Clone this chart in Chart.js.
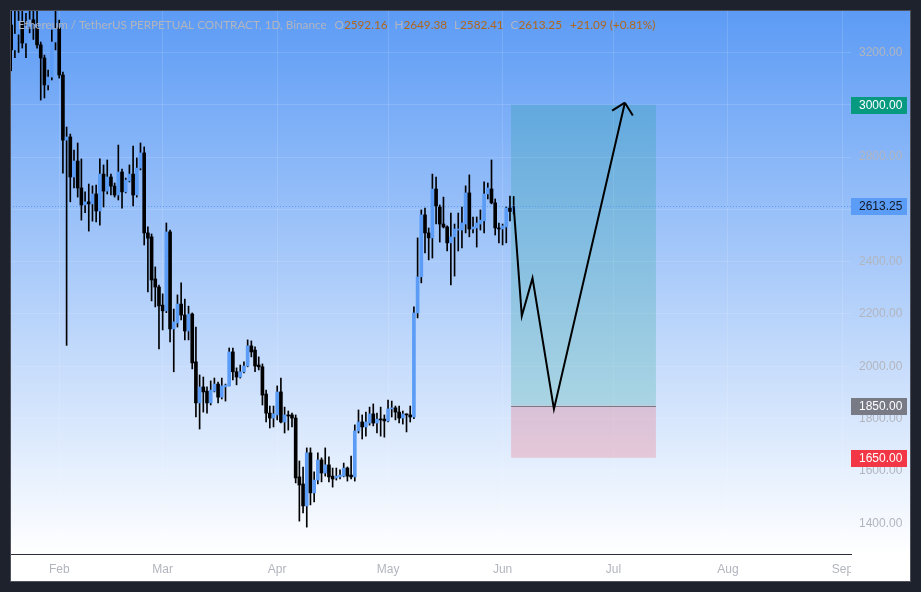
<!DOCTYPE html>
<html>
<head>
<meta charset="utf-8">
<script src="https://cdn.jsdelivr.net/npm/chart.js@4.4.1/dist/chart.umd.min.js"></script>
<style>
  html, body { margin: 0; padding: 0; background: #1e222d; }
  canvas { display: block; }
</style>
</head>
<body>
<canvas id="chart" width="921" height="592"></canvas>
<script>
// ── DATA ─────────────────────────────
const YEAR = 2025;
const dates = [
  '01-19','01-20','01-21','01-22','01-23','01-24','01-25','01-26','01-27','01-28','01-29','01-30','01-31',
  '02-01','02-02','02-03','02-04','02-05','02-06','02-07','02-08','02-09','02-10','02-11','02-12','02-13','02-14',
  '02-15','02-16','02-17','02-18','02-19','02-20','02-21','02-22','02-23','02-24','02-25','02-26','02-27','02-28',
  '03-01','03-02','03-03','03-04','03-05','03-06','03-07','03-08','03-09','03-10','03-11','03-12','03-13','03-14',
  '03-15','03-16','03-17','03-18','03-19','03-20','03-21','03-22','03-23','03-24','03-25','03-26','03-27','03-28',
  '03-29','03-30','03-31',
  '04-01','04-02','04-03','04-04','04-05','04-06','04-07','04-08','04-09','04-10','04-11','04-12','04-13','04-14',
  '04-15','04-16','04-17','04-18','04-19','04-20','04-21','04-22','04-23','04-24','04-25','04-26','04-27','04-28',
  '04-29','04-30',
  '05-01','05-02','05-03','05-04','05-05','05-06','05-07','05-08','05-09','05-10','05-11','05-12','05-13','05-14',
  '05-15','05-16','05-17','05-18','05-19','05-20','05-21','05-22','05-23','05-24','05-25','05-26','05-27','05-28',
  '05-29','05-30','05-31',
  '06-01','06-02','06-03','06-04'
];

const opens = [
  3305,3210,3270,3317,3236,3300,3325,3294,3229,3179,3076,3106,3240,
  3294,3114,2865,2877,2724,2785,2682,2617,2629,2621,2659,2594,2735,2670,2724,2689,2655,2743,2667,2709,2735,2655,2758,2816,2510,2495,2334,2303,
  2234,2212,2514,2143,2166,2238,2196,2135,2200,2017,1860,1921,1905,1860,1905,1932,1882,1921,1925,2055,1979,1959,1979,2001,2078,2062,2005,1998,1894,1821,1802,
  1814,1902,1787,1814,1814,1802,1577,1550,1466,1669,1516,1565,1642,1592,1623,1580,1573,1577,1580,1611,1584,1577,1753,1787,1768,1783,1818,1783,1798,1798,
  1791,1837,1841,1825,1802,1818,1814,1806,2204,2342,2579,2510,2491,2678,2609,2544,2533,2472,2495,2521,2521,2544,2663,2525,2529,2544,2556,2659,2678,2625,2529,
  2525,2533,2605,2592.16
];
const highs = [
  3420,3410,3370,3362,3350,3400,3360,3365,3240,3190,3133,3286,3420,
  3324,3125,2915,2888,2827,2854,2793,2667,2697,2690,2693,2793,2770,2789,2735,2701,2846,2754,2720,2770,2842,2797,2854,2839,2533,2506,2380,2311,
  2277,2548,2521,2219,2273,2319,2257,2230,2204,2150,1967,1959,1921,1944,1955,1940,1955,1932,2070,2070,1994,2005,2017,2101,2097,2074,2036,2009,1909,1848,1848,
  1925,1955,1844,1829,1821,1814,1638,1615,1688,1688,1596,1669,1650,1688,1654,1611,1611,1604,1630,1615,1657,1776,1833,1814,1825,1844,1856,1821,1844,1814,
  1871,1867,1848,1848,1829,1818,1848,2227,2491,2598,2605,2529,2735,2724,2617,2647,2537,2586,2544,2586,2609,2690,2732,2571,2571,2598,2705,2701,2789,2640,2548,
  2544,2609,2651,2649.38
];
const lows = [
  3130,3180,3200,3217,3180,3275,3250,3217,3018,3026,3057,3095,3210,
  3102,2739,2080,2629,2682,2647,2559,2587,2517,2555,2552,2540,2609,2659,2655,2647,2636,2605,2663,2705,2613,2647,2751,2464,2284,2250,2227,2066,
  2139,2205,2093,1979,2150,2177,2101,2101,1990,1806,1760,1825,1821,1852,1902,1860,1875,1867,1925,1948,1929,1955,1975,1998,2036,1979,1986,1852,1787,1764,1768,
  1795,1783,1745,1756,1768,1554,1408,1439,1385,1470,1481,1550,1558,1580,1558,1538,1565,1569,1577,1561,1569,1561,1745,1722,1733,1775,1772,1745,1733,1729,
  1787,1806,1795,1783,1779,1749,1787,1800,2185,2319,2434,2407,2414,2544,2475,2529,2441,2311,2345,2441,2453,2510,2495,2510,2456,2521,2510,2640,2621,2502,2472,
  2464,2472,2556,2582.41
];
const closes = [
  3210,3270,3320,3236,3300,3325,3310,3229,3179,3076,3106,3240,3290,
  3114,2865,2877,2724,2785,2682,2617,2629,2621,2659,2594,2735,2670,2724,2689,2655,2743,2667,2712,2735,2655,2758,2816,2510,2490,2330,2303,2231,
  2212,2514,2143,2170,2238,2196,2135,2200,2013,1860,1921,1902,1860,1909,1932,1882,1925,1928,2055,1979,1959,1979,2001,2078,2055,2001,1998,1890,1821,1802,1818,
  1902,1787,1814,1810,1802,1573,1546,1466,1669,1516,1565,1642,1592,1623,1577,1569,1580,1584,1611,1580,1577,1753,1787,1768,1787,1818,1783,1798,1795,1791,
  1837,1841,1825,1802,1818,1814,1806,2204,2342,2579,2510,2491,2678,2613,2544,2533,2472,2495,2525,2525,2548,2663,2525,2533,2548,2559,2659,2682,2625,2529,2525,
  2537,2605,2592.16,2613.25
];

// axis ticks
const monthTicks  = ['02-01','03-01','04-01','05-01','06-01','07-01','08-01','09-01'];
const monthLabels = ['Feb','Mar','Apr','May','Jun','Jul','Aug','Sep'];
const priceTicks  = [1400,1600,1800,2000,2200,2400,2600,2800,3000,3200];

// long position drawing (days from Feb 1 / prices)
const zoneFrom = 122.3, zoneTo = 161.5;
const target = 3000, entry = 1850, stop = 1650;
const pathDays   = [123, 125.2, 128.1, 133.9, 153.1];
const pathPrices = [2613.25, 2192, 2337, 1836, 3008];

const TITLE = 'Ethereum / TetherUS PERPETUAL CONTRACT, 1D, Binance';

// ── HELPERS ──────────────────────────
const DAY0 = Date.UTC(YEAR, 1, 1);
const dayOf = s => {
  const [m, d] = s.split('-').map(Number);
  return (Date.UTC(YEAR, m - 1, d) - DAY0) / 864e5;
};
const UP = '#5b9cf6', DOWN = '#000000';
const GRAY = '#b2b5be', ORANGE = '#b0661a';
const FONT = 'Liberation Sans, Arial, sans-serif';
const TFONT = 'Lato, Liberation Sans, sans-serif';
const last = closes.length - 1;

// ── PLUGINS ──────────────────────────
const backdrop = {
  id: 'backdrop',
  beforeDraw(chart) {
    const { ctx, chartArea: a } = chart;
    ctx.save();
    ctx.fillStyle = '#1e222d';
    ctx.fillRect(0, 0, chart.width, chart.height);
    ctx.fillStyle = '#ffffff';
    ctx.fillRect(10, 10, 901, 572);
    const g = ctx.createLinearGradient(0, a.top, 0, a.bottom);
    g.addColorStop(0, '#5c9bf5');
    g.addColorStop(1, '#ffffff');
    ctx.fillStyle = g;
    ctx.fillRect(10, a.top, 901, a.bottom - a.top);
    ctx.restore();
  }
};

const position = {
  id: 'position',
  beforeDatasetsDraw(chart) {
    const { ctx, chartArea: a, scales: { x, y } } = chart;
    const x0 = x.getPixelForValue(zoneFrom), x1 = x.getPixelForValue(zoneTo);
    const yT = y.getPixelForValue(target), yE = y.getPixelForValue(entry), yS = y.getPixelForValue(stop);
    ctx.save();
    ctx.fillStyle = 'rgba(8,153,129,0.2)';
    ctx.fillRect(x0, yT, x1 - x0, yE - yT);
    ctx.fillStyle = 'rgba(242,54,69,0.2)';
    ctx.fillRect(x0, yE, x1 - x0, yS - yE);
    ctx.strokeStyle = '#787b86';
    ctx.lineWidth = 1;
    ctx.beginPath();
    ctx.moveTo(x0, Math.round(yE) + 0.5);
    ctx.lineTo(x1, Math.round(yE) + 0.5);
    ctx.stroke();
    // last price dotted line
    const yL = Math.round(y.getPixelForValue(closes[last])) + 0.5;
    ctx.strokeStyle = UP;
    ctx.setLineDash([1, 2]);
    ctx.beginPath();
    ctx.moveTo(a.left, yL);
    ctx.lineTo(a.right, yL);
    ctx.stroke();
    ctx.restore();
  },
  afterDatasetsDraw(chart) {
    // arrow head on the projected path
    const { ctx, scales: { x, y } } = chart;
    const n = pathDays.length;
    const tx = x.getPixelForValue(pathDays[n - 1]), ty = y.getPixelForValue(pathPrices[n - 1]);
    const px = x.getPixelForValue(pathDays[n - 2]), py = y.getPixelForValue(pathPrices[n - 2]);
    const back = Math.atan2(py - ty, px - tx);
    ctx.save();
    ctx.strokeStyle = '#000';
    ctx.lineWidth = 2;
    ctx.beginPath();
    [-Math.PI / 4, Math.PI / 4].forEach(r => {
      ctx.moveTo(tx, ty);
      ctx.lineTo(tx + 15 * Math.cos(back + r), ty + 15 * Math.sin(back + r));
    });
    ctx.stroke();
    ctx.restore();
  }
};

const overlay = {
  id: 'overlay',
  afterDraw(chart) {
    const { ctx, chartArea: a, scales: { y } } = chart;
    ctx.save();
    // clip x labels under price scale
    ctx.fillStyle = '#ffffff';
    ctx.fillRect(a.right, a.bottom + 1, 60, 27);

    // price badges
    const badges = [
      [target, '#089981', '#ffffff'],
      [closes[last], UP, '#131722'],
      [entry, '#787b86', '#ffffff'],
      [stop, '#f23645', '#ffffff']
    ];
    ctx.font = '12px ' + FONT;
    ctx.textBaseline = 'middle';
    ctx.textAlign = 'left';
    badges.forEach(([v, bg, fg]) => {
      const yy = Math.round(y.getPixelForValue(v));
      ctx.fillStyle = bg;
      ctx.fillRect(a.right, yy - 8, 56, 17);
      ctx.fillStyle = fg;
      ctx.fillText(v.toFixed(2), a.right + 8, yy + 0.5);
    });

    // legend / title line
    let size = 13;
    ctx.font = size + 'px ' + TFONT;
    size = size * 309 / ctx.measureText(TITLE).width;
    ctx.font = size.toFixed(2) + 'px ' + TFONT;
    const chg = closes[last] - closes[last - 1];
    const pct = chg / closes[last - 1] * 100;
    const parts = [
      [TITLE, GRAY, 8],
      ['O', GRAY, 0], [opens[last].toFixed(2), ORANGE, 7],
      ['H', GRAY, 0], [highs[last].toFixed(2), ORANGE, 7],
      ['L', GRAY, 0], [lows[last].toFixed(2), ORANGE, 7],
      ['C', GRAY, 0], [closes[last].toFixed(2), ORANGE, 8],
      [(chg >= 0 ? '+' : '') + chg.toFixed(2) + ' (' + (pct >= 0 ? '+' : '') + pct.toFixed(2) + '%)', ORANGE, 0]
    ];
    let tx = 18;
    parts.forEach(([t, c, gap]) => {
      ctx.fillStyle = c;
      ctx.fillText(t, tx, 25);
      tx += ctx.measureText(t).width + gap;
    });

    // panel border
    ctx.strokeStyle = '#50535e';
    ctx.lineWidth = 1;
    ctx.strokeRect(10.5, 10.5, 900, 571);
    ctx.restore();
  }
};

// ── CHART ────────────────────────────
const xs = dates.map(dayOf);

new Chart(document.getElementById('chart'), {
  type: 'bar',
  data: {
    datasets: [
      {
        type: 'line',
        data: pathDays.map((d, i) => ({ x: d, y: pathPrices[i] })),
        borderColor: '#000', borderWidth: 2, pointRadius: 0, tension: 0,
        order: 1
      },
      {
        data: xs.map((x, i) => ({ x, y: [opens[i], closes[i]] })),
        backgroundColor: opens.map((o, i) => closes[i] >= o ? UP : DOWN),
        barThickness: 3, minBarLength: 1, grouped: false, borderWidth: 0,
        order: 2
      },
      {
        data: xs.map((x, i) => ({ x, y: [lows[i], highs[i]] })),
        backgroundColor: '#000',
        barThickness: 1, grouped: false, borderWidth: 0,
        order: 3
      }
    ]
  },
  options: {
    responsive: false, animation: false,
    layout: { padding: { left: 10, top: 10, right: 10, bottom: 10 } },
    plugins: { legend: { display: false }, tooltip: { enabled: false } },
    scales: {
      x: {
        type: 'linear', min: -13.32, max: 214.3, offset: false,
        grid: { color: 'rgba(255,255,255,0.13)', offset: false, drawTicks: false },
        border: { display: true, color: '#2a2e39' },
        afterBuildTicks: s => { s.ticks = monthTicks.map(m => ({ value: dayOf(m) })); },
        afterFit: s => { s.height = 28; s.paddingLeft = 0; s.paddingRight = 0; },
        ticks: {
          autoSkip: false, maxRotation: 0, padding: 8, color: GRAY,
          font: { family: FONT, size: 12 },
          callback: (v, i) => monthLabels[i]
        }
      },
      y: {
        position: 'right', min: 1282.2, max: 3362.5,
        grid: { color: 'rgba(255,255,255,0.13)', drawTicks: false },
        border: { display: false },
        afterBuildTicks: s => { s.ticks = priceTicks.map(v => ({ value: v })); },
        afterFit: s => { s.width = 60; s.paddingTop = 0; s.paddingBottom = 0; },
        ticks: {
          padding: 8, color: GRAY,
          font: { family: FONT, size: 12 },
          callback: v => v.toFixed(2)
        }
      }
    }
  },
  plugins: [backdrop, position, overlay]
});
</script>
</body>
</html>
